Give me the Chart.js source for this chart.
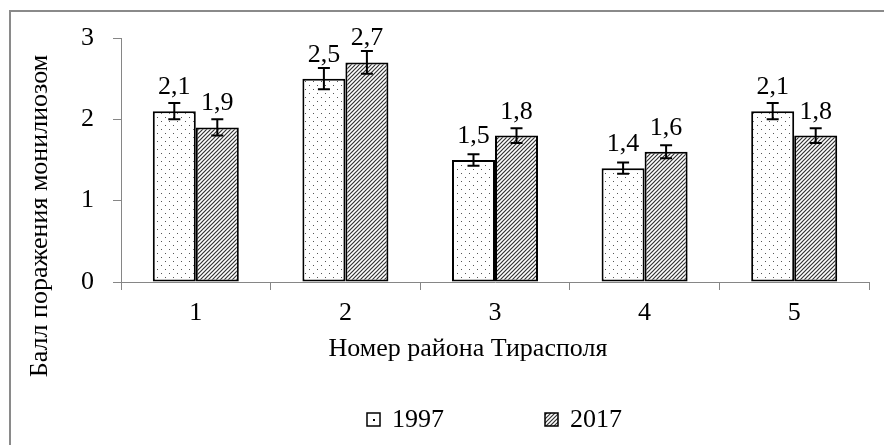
<!DOCTYPE html>
<html lang="ru">

<head>
    <meta charset="UTF-8">
    <title>Балл поражения монилиозом</title>
    <script src="https://cdn.jsdelivr.net/npm/chart.js"></script>
    <style>
        * {
            margin: 0;
            padding: 0;
            box-sizing: border-box;
        }

        body {
            background: #fff;
            width: 884px;
            height: 445px;
            overflow: hidden;
        }
    </style>
</head>

<body>
    <canvas id="chart" width="884" height="445"></canvas>

    <script>
        // Номер района и значения
        const districts = ['1', '2', '3', '4', '5'];
        const years = ['1997', '2017'];
        const score1997 = [2.1, 2.5, 1.5, 1.4, 2.1];
        const score2017 = [1.9, 2.7, 1.8, 1.6, 1.8];
        const err1997 = [0.1, 0.13, 0.07, 0.07, 0.1];
        const err2017 = [0.1, 0.14, 0.09, 0.08, 0.09];
        const yTicks = [0, 1, 2, 3];

        const FONT = 'Liberation Serif';
        const AXIS = '#868686';

        // точки для 1997
        function dotPattern() {
            const c = document.createElement('canvas');
            c.width = 8; c.height = 8;
            const g = c.getContext('2d');
            g.fillStyle = '#fff';
            g.fillRect(0, 0, 8, 8);
            g.fillStyle = '#555';
            g.fillRect(1, 1, 1, 1);
            g.fillRect(5, 5, 1, 1);
            return g.createPattern(c, 'repeat');
        }

        // штриховка для 2017
        function hatchPattern() {
            const c = document.createElement('canvas');
            c.width = 4; c.height = 4;
            const g = c.getContext('2d');
            g.fillStyle = '#fff';
            g.fillRect(0, 0, 4, 4);
            g.strokeStyle = '#333';
            g.lineWidth = 1.2;
            g.beginPath();
            g.moveTo(0, 4); g.lineTo(4, 0);
            g.moveTo(-1, 1); g.lineTo(1, -1);
            g.moveTo(3, 5); g.lineTo(5, 3);
            g.stroke();
            return g.createPattern(c, 'repeat');
        }

        const fills = [dotPattern(), hatchPattern()];
        const errors = [err1997, err2017];

        const extras = {
            id: 'extras',
            beforeDraw(chart) {
                const ctx = chart.ctx;
                ctx.save();
                ctx.strokeStyle = '#8a8a8a';
                ctx.lineWidth = 2;
                ctx.beginPath();
                ctx.moveTo(10, 460);
                ctx.lineTo(10, 11);
                ctx.lineTo(900, 11);
                ctx.stroke();
                ctx.restore();
            },
            afterDatasetsDraw(chart) {
                const ctx = chart.ctx;
                const y = chart.scales.y;
                ctx.save();
                chart.data.datasets.forEach((ds, di) => {
                    chart.getDatasetMeta(di).data.forEach((bar, i) => {
                        const v = ds.data[i];
                        const e = errors[di][i];
                        const top = y.getPixelForValue(v + e);
                        const bot = y.getPixelForValue(v - e);
                        ctx.strokeStyle = '#000';
                        ctx.lineWidth = 2;
                        ctx.beginPath();
                        ctx.moveTo(bar.x, top); ctx.lineTo(bar.x, bot);
                        ctx.moveTo(bar.x - 6, top); ctx.lineTo(bar.x + 6, top);
                        ctx.moveTo(bar.x - 6, bot); ctx.lineTo(bar.x + 6, bot);
                        ctx.stroke();

                        ctx.fillStyle = '#000';
                        ctx.font = '26px ' + FONT;
                        ctx.textAlign = 'center';
                        ctx.textBaseline = 'alphabetic';
                        ctx.fillText(String(v).replace('.', ','), bar.x, bar.y - 17);
                    });
                });
                ctx.restore();
            },
            afterDraw(chart) {
                const ctx = chart.ctx;
                const area = chart.chartArea;
                ctx.save();
                ctx.fillStyle = '#000';
                ctx.font = '26px ' + FONT;
                ctx.textBaseline = 'alphabetic';

                // подпись оси X
                ctx.textAlign = 'center';
                ctx.fillText('Номер района Тирасполя', 468, 356);

                // подпись оси Y
                ctx.save();
                ctx.translate(47, 216);
                ctx.rotate(-Math.PI / 2);
                ctx.fillText('Балл поражения монилиозом', 0, 0);
                ctx.restore();

                // легенда
                ctx.textAlign = 'left';
                const boxY = 413;
                let x = (area.left + area.right) / 2 - 128;
                years.forEach((label, i) => {
                    ctx.fillStyle = i === 0 ? '#fff' : fills[1];
                    ctx.fillRect(x, boxY, 13, 13);
                    if (i === 0) {
                        ctx.fillStyle = '#000';
                        ctx.fillRect(x + 6, boxY + 6, 2, 2);
                    }
                    ctx.strokeStyle = '#000';
                    ctx.lineWidth = 1.5;
                    ctx.strokeRect(x, boxY, 13, 13);
                    ctx.fillStyle = '#000';
                    ctx.fillText(label, x + 25, 427);
                    x += 25 + ctx.measureText(label).width + 101;
                });
                ctx.restore();
            }
        };

        new Chart(document.getElementById('chart'), {
            type: 'bar',
            data: {
                labels: districts,
                datasets: [
                    { label: years[0], data: score1997, backgroundColor: fills[0] },
                    { label: years[1], data: score2017, backgroundColor: fills[1] }
                ].map(d => Object.assign(d, {
                    borderColor: '#000',
                    borderWidth: 2,
                    borderSkipped: false,
                    categoryPercentage: 0.575,
                    barPercentage: 1
                }))
            },
            options: {
                responsive: false,
                animation: false,
                layout: { padding: { left: 0, top: 38, right: 15, bottom: 0 } },
                plugins: {
                    legend: { display: false },
                    tooltip: { enabled: false }
                },
                scales: {
                    x: {
                        grid: { drawOnChartArea: false, tickLength: 8, color: AXIS },
                        border: { color: AXIS },
                        ticks: { color: '#000', padding: 8, font: { family: FONT, size: 26 } },
                        afterFit: s => { s.height = 163; }
                    },
                    y: {
                        min: 0,
                        max: 3,
                        afterBuildTicks: s => { s.ticks = yTicks.map(v => ({ value: v })); },
                        grid: { drawOnChartArea: false, tickLength: 8, color: AXIS },
                        border: { color: AXIS },
                        ticks: { color: '#000', padding: 19, font: { family: FONT, size: 26 } },
                        afterFit: s => { s.width = 121; }
                    }
                }
            },
            plugins: [extras]
        });
    </script>
</body>

</html>
